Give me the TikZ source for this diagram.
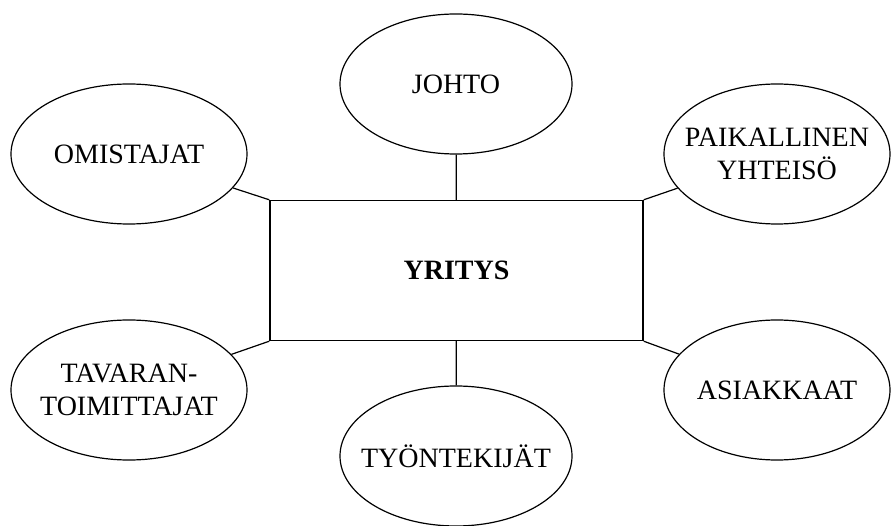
\documentclass[tikz,border=0pt]{standalone}
\usepackage{fontspec}
\setmainfont{Liberation Serif}
\usetikzlibrary{shapes.geometric}
\begin{document}
\begin{tikzpicture}[x=1pt,y=-1pt,
  stake/.style={draw, ellipse, line width=1.2pt, minimum width=232pt, minimum height=140pt, inner sep=0pt},
  every label/.style={align=center, inner sep=0pt, font=\fontsize{28}{33}\selectfont},
  firm/.style={draw, rectangle, line width=1.4pt, minimum width=373pt, minimum height=140pt, inner sep=0pt,
    font=\fontsize{28}{33}\selectfont\bfseries},
  link/.style={line width=1.2pt}]
\useasboundingbox (0,0) rectangle (892,526);
\node[firm] (yr) at (456.5,270.5) {YRITYS};
\node[stake, label={center:JOHTO}] (jo) at (456,84) {};
\node[stake, minimum width=236pt, label={center:OMISTAJAT}] (om) at (129,154) {};
\node[stake, minimum width=226pt, label={center:PAIKALLINEN\\YHTEISÖ}] (pa) at (777,154) {};
\node[stake, minimum width=236pt, label={center:TAVARAN-\\TOIMITTAJAT}] (ta) at (129,390) {};
\node[stake, minimum width=226pt, label={center:ASIAKKAAT}] (as) at (777,390) {};
\node[stake, label={center:TYÖNTEKIJÄT}] (ty) at (456,456) {};
\draw[link] (jo) -- (yr);
\draw[link] (ty) -- (yr);
\draw[link] (om) -- (yr.north west);
\draw[link] (pa) -- (yr.north east);
\draw[link] (ta) -- (yr.south west);
\draw[link] (as) -- (yr.south east);
\end{tikzpicture}
\end{document}
